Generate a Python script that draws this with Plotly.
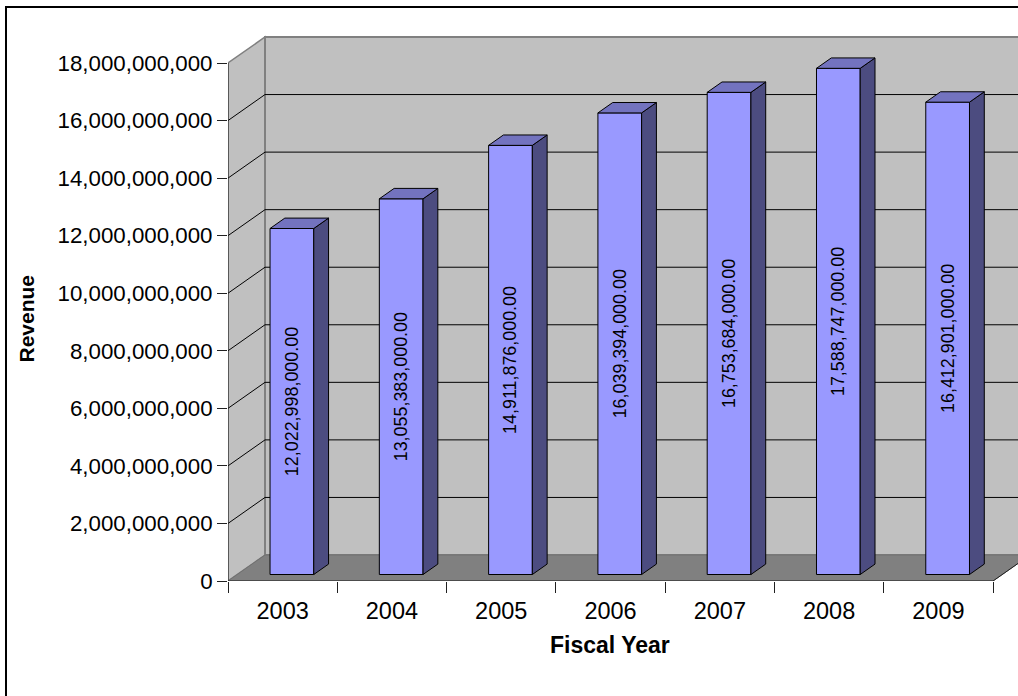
import plotly.graph_objects as go

# ---------------- data ----------------
years = ["2003", "2004", "2005", "2006", "2007", "2008", "2009"]
revenue = [12022998000, 13055383000, 14911876000, 16039394000,
           16753684000, 17588747000, 16412901000]
y_ticks = [0, 2e9, 4e9, 6e9, 8e9, 10e9, 12e9, 14e9, 16e9, 18e9]
y_title = "Revenue"
x_title = "Fiscal Year"

# ---------------- layout geometry (styles) ----------------
W, H = 1018, 696
ML, MR, MT, MB = 228, 0, 30, 115
PW, PH = W - ML - MR, H - MT - MB
CAT_PX = 109.29            # pixels per category
YMAX = y_ticks[-1]
YPX = 518.0                # pixels spanned by 0..YMAX
DEPTH_PX = (37.0, -26.0)   # 3-D depth offset of the back wall (px)
F0, F1 = 0.25, 0.65        # bar depth position (fraction of wall depth)
BAR_W = 0.4

ncat = len(years)
x_rng = [0, PW / CAT_PX]
y_rng = [0, PH / YPX * YMAX]
dcat = DEPTH_PX[0] / CAT_PX
dval = -DEPTH_PX[1] * YMAX / YPX


def px_x(p):
    return (p - ML) / PW


def px_y(p):
    return (H - MB - p) / PH


def path(pts):
    return "M " + " L ".join(f"{x},{y}" for x, y in pts) + " Z"


FONT = "Liberation Sans, Arial, sans-serif"
shapes = []

# left side wall
shapes.append(dict(type="path", xref="x", yref="y", layer="below",
                   path=path([(0, 0), (0, YMAX), (dcat, YMAX + dval), (dcat, dval)]),
                   fillcolor="#c0c0c0", line=dict(color="#808080", width=1.5)))
# back wall
shapes.append(dict(type="path", xref="x", yref="y", layer="below",
                   path=path([(dcat, dval), (dcat, YMAX + dval),
                              (ncat + dcat, YMAX + dval), (ncat + dcat, dval)]),
                   fillcolor="#c0c0c0", line=dict(color="#808080", width=2)))
# floor
shapes.append(dict(type="path", xref="x", yref="y", layer="below",
                   path=path([(0, 0), (ncat, 0), (ncat + dcat, dval), (dcat, dval)]),
                   fillcolor="#808080", line=dict(color="#707070", width=1)))
# gridlines on walls
for v in y_ticks[1:-1]:
    shapes.append(dict(type="line", xref="x", yref="y", layer="below",
                       x0=dcat, y0=v + dval, x1=ncat + dcat, y1=v + dval,
                       line=dict(color="black", width=1)))
    shapes.append(dict(type="line", xref="x", yref="y", layer="below",
                       x0=0, y0=v, x1=dcat, y1=v + dval,
                       line=dict(color="black", width=1)))
# axis lines
shapes.append(dict(type="line", xref="x", yref="y", layer="below",
                   x0=0, y0=0, x1=0, y1=YMAX, line=dict(color="#202020", width=1)))
shapes.append(dict(type="line", xref="x", yref="y", layer="below",
                   x0=0, y0=0, x1=ncat, y1=0, line=dict(color="#202020", width=1)))
shapes.append(dict(type="line", xref="x", yref="y", layer="below",
                   x0=ncat, y0=0, x1=ncat + dcat, y1=dval, line=dict(color="#202020", width=1)))

# bar side and top faces
ddx, ddy = (F1 - F0) * dcat, (F1 - F0) * dval
bar_x = []
for i, v in enumerate(revenue):
    cx = i + 0.5 + F0 * dcat
    bar_x.append(cx)
    xl, xr = cx - BAR_W / 2, cx + BAR_W / 2
    b0, t0 = F0 * dval, v + F0 * dval
    shapes.append(dict(type="path", xref="x", yref="y", layer="above",
                       path=path([(xr, b0), (xr + ddx, b0 + ddy), (xr + ddx, t0 + ddy), (xr, t0)]),
                       fillcolor="#4c4c80", line=dict(color="black", width=1)))
    shapes.append(dict(type="path", xref="x", yref="y", layer="above",
                       path=path([(xl, t0), (xl + ddx, t0 + ddy), (xr + ddx, t0 + ddy), (xr, t0)]),
                       fillcolor="#7373bf", line=dict(color="black", width=1)))

# outer chart border
shapes.append(dict(type="rect", xref="paper", yref="paper",
                   x0=px_x(6), y0=px_y(715), x1=px_x(1040), y1=px_y(7),
                   line=dict(color="black", width=2), fillcolor="rgba(0,0,0,0)"))

fig = go.Figure()
fig.add_trace(go.Bar(
    x=bar_x, y=revenue, base=[F0 * dval] * ncat, width=BAR_W,
    marker=dict(color="#9999ff", line=dict(color="black", width=1)),
    text=[f"{v:,.2f}" for v in revenue],
    textposition="inside", insidetextanchor="middle", textangle=-90,
    constraintext="none",
    textfont=dict(family=FONT, size=17.9, color="black"),
    hoverinfo="skip", showlegend=False,
))

fig.update_layout(
    width=W, height=H,
    margin=dict(l=ML, r=MR, t=MT, b=MB, pad=0),
    paper_bgcolor="white", plot_bgcolor="white",
    shapes=shapes,
    showlegend=False,
    xaxis=dict(range=x_rng, showgrid=False, zeroline=False, showline=False,
               tickmode="array", tickvals=[i + 0.5 for i in range(ncat)], ticktext=years,
               ticks="", tickfont=dict(family=FONT, size=23.5, color="black"),
               ticklabelstandoff=13,
               minor=dict(tickmode="array", tickvals=list(range(ncat + 1)),
                          ticks="outside", ticklen=11, tickcolor="#202020", tickwidth=1,
                          showgrid=False),
               automargin=False, fixedrange=True),
    yaxis=dict(range=y_rng, showgrid=False, zeroline=False, showline=False,
               tickmode="array", tickvals=y_ticks,
               ticktext=[f"{int(v):,}" for v in y_ticks],
               ticks="outside", ticklen=10, tickcolor="#202020", tickwidth=1,
               tickfont=dict(family=FONT, size=22.3, color="black"),
               automargin=False, fixedrange=True),
    annotations=[
        dict(text=f"<b>{y_title}</b>", xref="paper", yref="paper",
             x=px_x(25.5), y=px_y(319), textangle=-90, showarrow=False,
             font=dict(family=FONT, size=21, color="black"),
             xanchor="center", yanchor="middle"),
        dict(text=f"<b>{x_title}</b>", xref="paper", yref="paper",
             x=px_x(610), y=px_y(645), showarrow=False,
             font=dict(family=FONT, size=23, color="black"),
             xanchor="center", yanchor="middle"),
    ],
)

fig.write_html("out.html", config={"displayModeBar": False},
               post_script="document.body.style.margin='0px';document.body.style.overflow='hidden';")
